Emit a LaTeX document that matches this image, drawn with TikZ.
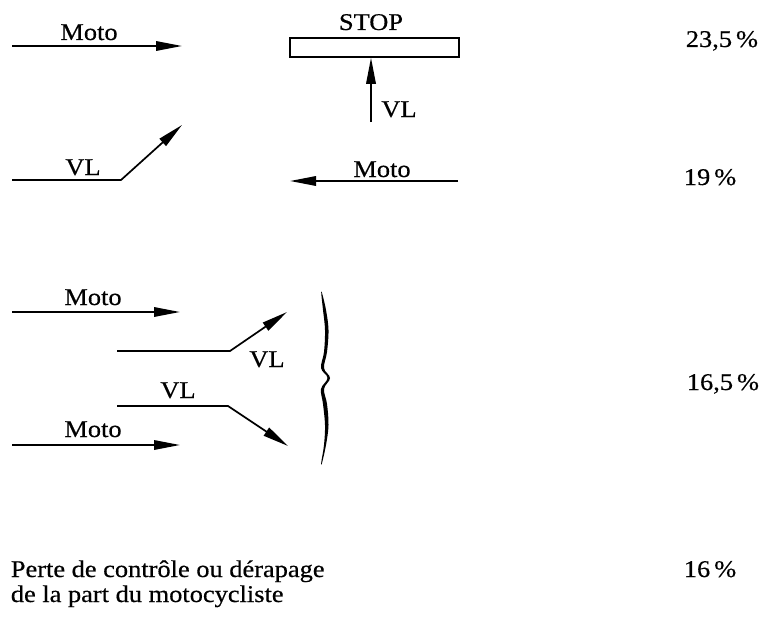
\documentclass[tikz,border=0pt]{standalone}
\usepackage{fontspec}
\setmainfont{Liberation Serif}[FakeStretch=1.1,FakeBold=0.5]
\usetikzlibrary{arrows.meta}

\begin{document}
\begin{tikzpicture}[x=1pt,y=-1pt,line width=1.7pt,
  road/.style={-{Triangle[length=26pt,width=9.5pt]}},
  lbl/.style={font=\fontsize{24}{28}\selectfont,inner sep=0pt,anchor=base},
  pct/.style={lbl,anchor=base west}]
\useasboundingbox (0,0) rectangle (759,634);

% --- case 1: moto on main road, car leaves a stop sign
\coordinate (m1a) at (12,46);  \coordinate (m1b) at (182,46);
\draw[road] (m1a) -- (m1b);
\node[lbl] (moto1) at (89,40) {Moto};
\node[draw,line width=1.5pt,minimum width=169pt,minimum height=19pt,inner sep=0pt] (stop) at (374.5,47.5) {};
\node[lbl] (stoplbl) at (371,30) {STOP};
\coordinate (vl1a) at (371,122);
\draw[road] (vl1a) -- (stop.south -| vl1a);
\node[lbl] (vl1) at (399,117) {VL};
\node[pct] (p1) at (685,47) {23,5\,\%};

% --- case 2: car turns left across oncoming moto
\coordinate (vl2a) at (12,180); \coordinate (vl2b) at (121,180); \coordinate (vl2c) at (182,125);
\draw[road] (vl2a) -- (vl2b) -- (vl2c);
\node[lbl] (vl2) at (83,175) {VL};
\coordinate (m2a) at (458,181); \coordinate (m2b) at (290,181);
\draw[road] (m2a) -- (m2b);
\node[lbl] (moto2) at (382,177) {Moto};
\node[pct] (p2) at (683,185) {19\,\%};

% --- case 3: car turns across a moto travelling in the same direction
\coordinate (m3a) at (12,312); \coordinate (m3b) at (180,312);
\draw[road] (m3a) -- (m3b);
\node[lbl] (moto3) at (93,305) {Moto};
\coordinate (vl3a) at (117,351); \coordinate (vl3b) at (230,351); \coordinate (vl3c) at (287,312);
\draw[road] (vl3a) -- (vl3b) -- (vl3c);
\node[lbl] (vl3) at (267,367) {VL};
\coordinate (vl4a) at (117,406); \coordinate (vl4b) at (228,406); \coordinate (vl4c) at (288,446);
\draw[road] (vl4a) -- (vl4b) -- (vl4c);
\node[lbl] (vl4) at (178,398) {VL};
\coordinate (m4a) at (12,445); \coordinate (m4b) at (180,445);
\draw[road] (m4a) -- (m4b);
\node[lbl] (moto4) at (93,437) {Moto};

% hand-drawn brace grouping the two sketches
\fill plot[smooth cycle,tension=0.6] coordinates {
  (322,293) (326,310) (328.5,330) (327,352) (324,368) (330,378) (324,389)
  (327,404) (328.5,425) (326,445) (322,463) (321.3,462) (324,445) (325,425)
  (323,404) (321,389) (327.5,378) (321,368) (324,352) (325,330) (323,310) (321.3,294)};
\node[pct] (p3) at (686,390) {16,5\,\%};

% --- case 4
\node[lbl,anchor=base west] (perte1) at (10,577) {Perte de contrôle ou dérapage};
\node[lbl,anchor=base west] (perte2) at (10,602) {de la part du motocycliste};
\node[pct] (p4) at (683,577) {16\,\%};
\end{tikzpicture}
\end{document}
